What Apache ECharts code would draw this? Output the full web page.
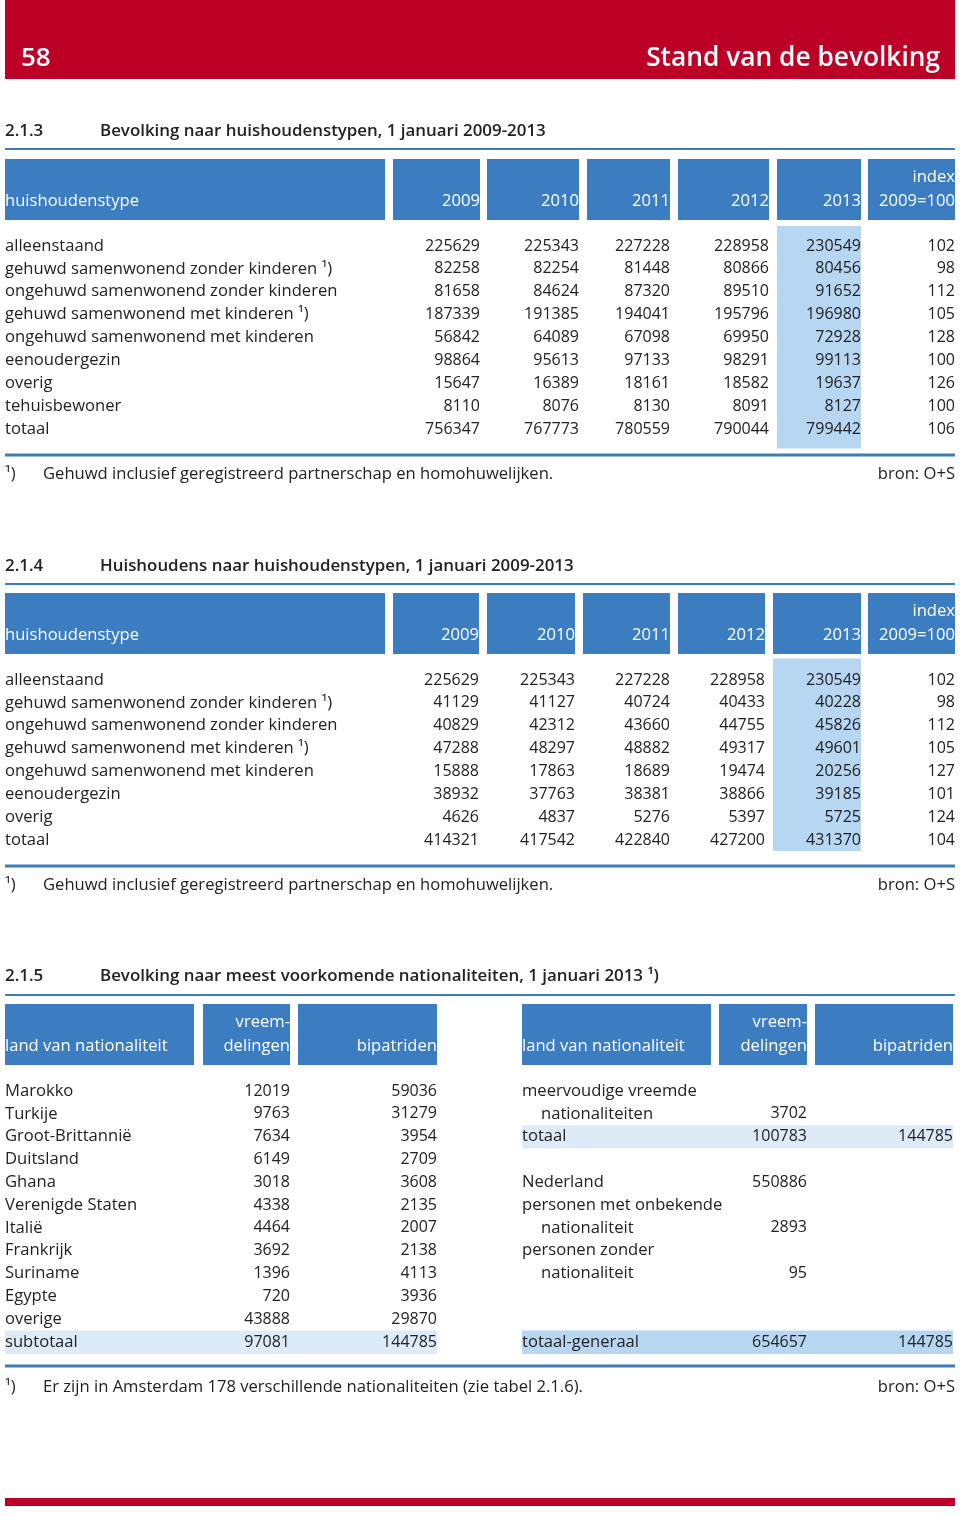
<!DOCTYPE html>
<html><head><meta charset="utf-8">
<script src="https://cdn.jsdelivr.net/npm/echarts@6/dist/echarts.min.js"></script>
<style>html,body{margin:0;padding:0;background:#fff}#c{width:960px;height:1516px}</style>
</head><body><div id="c"></div><script>
// ---------------- DATA ----------------
const pageNumber = '58';
const chapterTitle = 'Stand van de bevolking';

const t1Number = '2.1.3';
const t1Title = 'Bevolking naar huishoudenstypen, 1 januari 2009-2013';
const t1Header = [['huishoudenstype'], ['2009'], ['2010'], ['2011'], ['2012'], ['2013'], ['index', '2009=100']];
const t1Rows = ['alleenstaand', 'gehuwd samenwonend zonder kinderen ¹)', 'ongehuwd samenwonend zonder kinderen',
  'gehuwd samenwonend met kinderen ¹)', 'ongehuwd samenwonend met kinderen', 'eenoudergezin', 'overig', 'tehuisbewoner', 'totaal'];
const t1Y2009 = [225629, 82258, 81658, 187339, 56842, 98864, 15647, 8110, 756347];
const t1Y2010 = [225343, 82254, 84624, 191385, 64089, 95613, 16389, 8076, 767773];
const t1Y2011 = [227228, 81448, 87320, 194041, 67098, 97133, 18161, 8130, 780559];
const t1Y2012 = [228958, 80866, 89510, 195796, 69950, 98291, 18582, 8091, 790044];
const t1Y2013 = [230549, 80456, 91652, 196980, 72928, 99113, 19637, 8127, 799442];
const t1Index = [102, 98, 112, 105, 128, 100, 126, 100, 106];
const t1Note = 'Gehuwd inclusief geregistreerd partnerschap en homohuwelijken.';

const t2Number = '2.1.4';
const t2Title = 'Huishoudens naar huishoudenstypen, 1 januari 2009-2013';
const t2Header = [['huishoudenstype'], ['2009'], ['2010'], ['2011'], ['2012'], ['2013'], ['index', '2009=100']];
const t2Rows = ['alleenstaand', 'gehuwd samenwonend zonder kinderen ¹)', 'ongehuwd samenwonend zonder kinderen',
  'gehuwd samenwonend met kinderen ¹)', 'ongehuwd samenwonend met kinderen', 'eenoudergezin', 'overig', 'totaal'];
const t2Y2009 = [225629, 41129, 40829, 47288, 15888, 38932, 4626, 414321];
const t2Y2010 = [225343, 41127, 42312, 48297, 17863, 37763, 4837, 417542];
const t2Y2011 = [227228, 40724, 43660, 48882, 18689, 38381, 5276, 422840];
const t2Y2012 = [228958, 40433, 44755, 49317, 19474, 38866, 5397, 427200];
const t2Y2013 = [230549, 40228, 45826, 49601, 20256, 39185, 5725, 431370];
const t2Index = [102, 98, 112, 105, 127, 101, 124, 104];
const t2Note = 'Gehuwd inclusief geregistreerd partnerschap en homohuwelijken.';

const t3Number = '2.1.5';
const t3Title = 'Bevolking naar meest voorkomende nationaliteiten, 1 januari 2013 ¹)';
const t3Header = [['land van nationaliteit'], ['vreem-', 'delingen'], ['bipatriden']];
const t3LeftRows = ['Marokko', 'Turkije', 'Groot-Brittannië', 'Duitsland', 'Ghana', 'Verenigde Staten', 'Italië',
  'Frankrijk', 'Suriname', 'Egypte', 'overige', 'subtotaal'];
const t3LeftVreemd = [12019, 9763, 7634, 6149, 3018, 4338, 4464, 3692, 1396, 720, 43888, 97081];
const t3LeftBipat = [59036, 31279, 3954, 2709, 3608, 2135, 2007, 2138, 4113, 3936, 29870, 144785];
const t3RightRows = ['meervoudige vreemde', 'nationaliteiten', 'totaal', '', 'Nederland', 'personen met onbekende',
  'nationaliteit', 'personen zonder', 'nationaliteit', '', '', 'totaal-generaal'];
const t3RightVreemd = [null, 3702, 100783, null, 550886, null, 2893, null, 95, null, null, 654657];
const t3RightBipat = [null, null, 144785, null, null, null, null, null, null, null, null, 144785];
const t3Note = 'Er zijn in Amsterdam 178 verschillende nationaliteiten (zie tabel 2.1.6).';
const source = 'bron: O+S';
const noteMark = '¹)';

// ---------------- LAYOUT / STYLE ----------------
const FONT = '"Open Sans", "DejaVu Sans", sans-serif';
const RED = '#BD0026', BLUE = '#3B7DC0', LINE = '#3D7DBB', HI = '#B6D6F2', HI_LIGHT = '#DDEBF8', INK = '#222';
const BODY = '16.6px ' + FONT;
const NUM = '16px ' + FONT;
const TITLE = '600 16.9px ' + FONT;

const L1 = { rowTop: 246, step: 22.875, n: t1Rows.length, labelX: 5,
  boxes: [[5, 385], [393, 480], [487, 579], [587, 670], [678, 769], [777, 861], [868, 955]],
  headTop: 159, headBottom: 220, titleY: 131, titleLine: 149, bottomLine: 455, noteY: 474,
  hiPadTop: 8.5, hiPadBottom: 7.5 };
const L2 = { rowTop: 680, step: 22.857, n: t2Rows.length, labelX: 5,
  boxes: [[5, 385], [393, 479], [487, 575], [583, 670], [678, 765], [773, 861], [868, 955]],
  headTop: 593, headBottom: 654, titleY: 566, titleLine: 584, bottomLine: 866, noteY: 885,
  hiPadTop: 10, hiPadBottom: -1 };
const L3 = { rowTop: 1091, step: 22.82, n: 12,
  left: [[5, 194], [203, 290], [298, 437]], right: [[522, 711], [719, 807], [815, 953]],
  headTop: 1004, headBottom: 1065, titleY: 976, titleLine: 995, bottomLine: 1366, noteY: 1387,
  indentRows: [1, 6, 8], indent: 19 };

function gridFor(L) {
  return { left: 0, right: 0, top: L.rowTop - L.step / 2, height: L.step * L.n, containLabel: false };
}
const grids = [gridFor(L1), gridFor(L2), gridFor(L3)];
const xAxes = grids.map((g, i) => ({ type: 'value', gridIndex: i, min: 0, max: 960, show: false }));
const yAxes = [t1Rows, t2Rows, t3LeftRows].map((rows, i) => ({
  type: 'category', gridIndex: i, data: rows.map((r, k) => String(k)), inverse: true, show: false }));

function txt(text, x, y, align, font, fill) {
  return { type: 'text', silent: true, style: { text: text, x: x, y: y, textAlign: align,
    textVerticalAlign: 'middle', font: font || BODY, fill: fill || INK } };
}

function tableSeries(gi, labels, cols, labelX, valueX, indentRows, indent) {
  return {
    type: 'custom', xAxisIndex: gi, yAxisIndex: gi, silent: true, z: 5, animation: false,
    data: labels.map((l, i) => [0, i]), encode: { x: 0, y: 1 },
    renderItem: function (params, api) {
      const i = params.dataIndex;
      const y = api.coord([0, i])[1];
      const ch = [];
      const ind = indentRows && indentRows.indexOf(i) >= 0 ? indent : 0;
      if (labels[i]) ch.push(txt(labels[i], api.coord([labelX, i])[0] + ind, y, 'left', BODY));
      cols.forEach(function (c, k) {
        if (c[i] != null) ch.push(txt(String(c[i]), api.coord([valueX[k], i])[0], y, 'right', NUM));
      });
      return { type: 'group', children: ch };
    }
  };
}

function bandSeries(gi, n, rowsToFill, x0, x1, color, padTop, padBottom) {
  const first = Math.min.apply(null, rowsToFill), last = Math.max.apply(null, rowsToFill);
  return {
    type: 'custom', xAxisIndex: gi, yAxisIndex: gi, silent: true, z: 1, animation: false,
    data: rowsToFill.map(i => [0, i]), encode: { x: 0, y: 1 },
    renderItem: function (params, api) {
      const i = rowsToFill[params.dataIndex];
      const a = api.coord([x0, i]), b = api.coord([x1, i]);
      const h = api.size([0, 1])[1];
      const top = a[1] - h / 2 - (i === first ? padTop : 0);
      const bot = a[1] + h / 2 + (i === last ? padBottom : 0);
      return { type: 'rect', shape: { x: a[0], y: top, width: b[0] - a[0], height: bot - top + 0.5 },
        style: { fill: color } };
    }
  };
}
const range = n => Array.from({ length: n }, (_, i) => i);

// ---------------- GRAPHIC (page furniture) ----------------
const g = [];
g.push({ type: 'rect', shape: { x: 5, y: 0, width: 950, height: 79 }, style: { fill: RED }, silent: true });
g.push({ type: 'text', silent: true, style: { text: pageNumber, x: 21, y: 59, textVerticalAlign: 'middle',
  font: '600 26px ' + FONT, fill: '#fff' } });
g.push({ type: 'text', silent: true, style: { text: chapterTitle, x: 940, y: 59, textAlign: 'right',
  textVerticalAlign: 'middle', font: '600 26.3px ' + FONT, fill: '#fff' } });
g.push({ type: 'rect', shape: { x: 5, y: 1498, width: 950, height: 8 }, style: { fill: RED }, silent: true });

function hline(y, x0, x1, w) {
  g.push({ type: 'line', silent: true, shape: { x1: x0, y1: y, x2: x1, y2: y }, style: { stroke: LINE, lineWidth: w } });
}
function title(num, t, y) {
  g.push({ type: 'text', silent: true, style: { text: num, x: 5, y: y, textVerticalAlign: 'middle', font: TITLE, fill: INK } });
  g.push({ type: 'text', silent: true, style: { text: t, x: 100, y: y, textVerticalAlign: 'middle', font: TITLE, fill: INK } });
}
function header(boxes, labels, top, bottom) {
  boxes.forEach(function (b, k) {
    g.push({ type: 'rect', silent: true, shape: { x: b[0], y: top, width: b[1] - b[0], height: bottom - top }, style: { fill: BLUE } });
    const lines = labels[k];
    const alignLeft = k === 0;
    lines.forEach(function (s, j) {
      const y = bottom - 19 - (lines.length - 1 - j) * 23.5;
      g.push({ type: 'text', silent: true, style: { text: s, x: alignLeft ? b[0] : b[1], y: y,
        textAlign: alignLeft ? 'left' : 'right', textVerticalAlign: 'middle', font: BODY, fill: '#fff' } });
    });
  });
}
function note(y, text) {
  g.push({ type: 'text', silent: true, style: { text: noteMark, x: 5, y: y, textVerticalAlign: 'middle', font: BODY, fill: INK } });
  g.push({ type: 'text', silent: true, style: { text: text, x: 43, y: y, textVerticalAlign: 'middle', font: BODY, fill: INK } });
  g.push({ type: 'text', silent: true, style: { text: source, x: 955, y: y, textAlign: 'right', textVerticalAlign: 'middle', font: BODY, fill: INK } });
}

title(t1Number, t1Title, L1.titleY); hline(L1.titleLine, 5, 955, 2);
header(L1.boxes, t1Header, L1.headTop, L1.headBottom);
hline(L1.bottomLine, 5, 955, 3); note(L1.noteY, t1Note);

title(t2Number, t2Title, L2.titleY); hline(L2.titleLine, 5, 955, 2);
header(L2.boxes, t2Header, L2.headTop, L2.headBottom);
hline(L2.bottomLine, 5, 955, 3); note(L2.noteY, t2Note);

title(t3Number, t3Title, L3.titleY); hline(L3.titleLine, 5, 955, 2);
header(L3.left, t3Header, L3.headTop, L3.headBottom);
header(L3.right, t3Header, L3.headTop, L3.headBottom);
hline(L3.bottomLine, 5, 955, 3); note(L3.noteY, t3Note);

// ---------------- SERIES ----------------
const series = [
  bandSeries(0, L1.n, range(L1.n), L1.boxes[5][0], L1.boxes[5][1], HI, L1.hiPadTop, L1.hiPadBottom),
  tableSeries(0, t1Rows, [t1Y2009, t1Y2010, t1Y2011, t1Y2012, t1Y2013, t1Index], L1.labelX, L1.boxes.slice(1).map(b => b[1])),
  bandSeries(1, L2.n, range(L2.n), L2.boxes[5][0], L2.boxes[5][1], HI, L2.hiPadTop, L2.hiPadBottom),
  tableSeries(1, t2Rows, [t2Y2009, t2Y2010, t2Y2011, t2Y2012, t2Y2013, t2Index], L2.labelX, L2.boxes.slice(1).map(b => b[1])),
  bandSeries(2, L3.n, [11], L3.left[0][0], L3.left[2][1], HI_LIGHT, 0, 0),
  bandSeries(2, L3.n, [2], L3.right[0][0], L3.right[2][1], HI_LIGHT, 0, 0),
  bandSeries(2, L3.n, [11], L3.right[0][0], L3.right[2][1], HI, 0, 0),
  tableSeries(2, t3LeftRows, [t3LeftVreemd, t3LeftBipat], L3.left[0][0], [L3.left[1][1], L3.left[2][1]]),
  tableSeries(2, t3RightRows, [t3RightVreemd, t3RightBipat], L3.right[0][0], [L3.right[1][1], L3.right[2][1]], L3.indentRows, L3.indent)
];

const chart = echarts.init(document.getElementById('c'), null, { renderer: 'canvas', width: 960, height: 1516 });
chart.setOption({
  animation: false,
  backgroundColor: '#fff',
  grid: grids, xAxis: xAxes, yAxis: yAxes,
  graphic: { elements: g },
  series: series
});
</script></body></html>
